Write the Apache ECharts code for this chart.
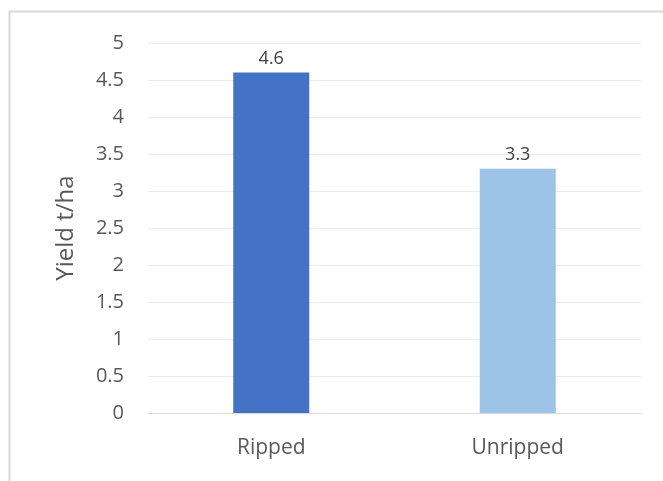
<!DOCTYPE html>
<html>
<head>
<meta charset="utf-8">
<script src="https://cdn.jsdelivr.net/npm/echarts@6/dist/echarts.min.js"></script>
<style>
  html, body { margin: 0; padding: 0; background: #fff; }
  #chart { width: 663px; height: 481px; }
</style>
</head>
<body>
<div id="chart"></div>
<script>
// Yield per treatment (t/ha)
const categories = ['Ripped', 'Unripped'];
const yieldValues = [4.6, 3.3];
const barColors = ['#4472C4', '#9DC3E6'];

const font = '"Open Sans", "Liberation Sans", sans-serif';

const chart = echarts.init(document.getElementById('chart'), null, { renderer: 'canvas' });

chart.setOption({
  animation: false,
  backgroundColor: '#ffffff',
  graphic: [{
    type: 'rect',
    shape: { x: 9.5, y: 11.5, width: 700, height: 520 },
    style: { fill: 'none', stroke: '#d9d9d9', lineWidth: 2 },
    silent: true,
    z: -1
  }],
  grid: { left: 148, right: 22, top: 43, bottom: 68 },
  xAxis: {
    type: 'category',
    data: categories,
    axisLine: { lineStyle: { color: '#d9d9d9', width: 1 } },
    axisTick: { show: false },
    axisLabel: { color: '#595959', fontSize: 21, fontFamily: font, margin: 25 }
  },
  yAxis: {
    type: 'value',
    min: 0,
    max: 5,
    interval: 0.5,
    name: 'Yield t/ha',
    nameLocation: 'middle',
    nameGap: 70,
    nameTextStyle: { color: '#595959', fontSize: 24, fontFamily: font },
    axisLine: { show: false },
    axisTick: { show: false },
    splitLine: { lineStyle: { color: '#ececec', width: 1 } },
    axisLabel: { color: '#595959', fontSize: 20, fontFamily: font, margin: 24 }
  },
  series: [{
    type: 'bar',
    data: yieldValues.map((v, i) => ({ value: v, itemStyle: { color: barColors[i] } })),
    barWidth: 76,
    label: {
      show: true,
      position: 'top',
      distance: 5,
      color: '#404040',
      fontSize: 18,
      fontFamily: font,
      formatter: p => p.value.toFixed(1)
    }
  }]
});
</script>
</body>
</html>
